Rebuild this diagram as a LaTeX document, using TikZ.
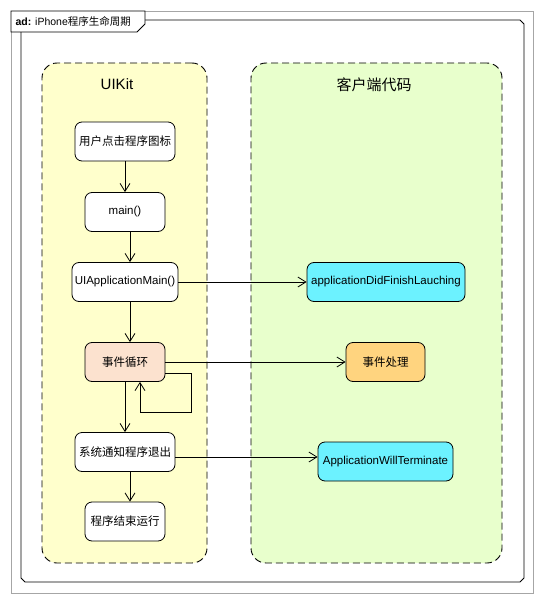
\documentclass[tikz,border=0pt]{standalone}
\usepackage{fontspec}
\setmainfont{Liberation Sans}
\newfontfamily\cjk{Noto Sans CJK SC}
\usepackage{tikz}
\usetikzlibrary{arrows.meta,positioning,calc}
\definecolor{uikitfill}{HTML}{FFFFCC}
\definecolor{clientfill}{HTML}{E8FFCC}
\definecolor{loopfill}{HTML}{FCE2CF}
\definecolor{cyanbox}{HTML}{6CF2FF}
\definecolor{evfill}{HTML}{FFD47F}
\tikzset{
  lane/.style={draw,dash pattern=on 7pt off 4pt,rounded corners=15pt,line width=0.9pt},
  lanetitle/.style={font=\fontsize{15}{17}\selectfont},
  act/.style={draw,rounded corners=7pt,line width=0.8pt,fill=white,minimum height=39pt,inner sep=1pt,font=\fontsize{11.5}{13}\selectfont},
  arr/.style={-{Straight Barb[length=8pt,width=10pt]},line width=0.8pt},
}

\begin{document}
\begin{tikzpicture}[x=1pt,y=-1pt]
        \useasboundingbox (0,0) rectangle (544,602);
        \draw[black!35,line width=0.8pt] (11,11) rectangle (533,593);
        \draw[line width=0.9pt] (145,20) -- (520,20) -- (524,24) -- (524,578) -- (520,582) -- (25,582) -- (21,578) -- (21,32);
        \draw[line width=0.9pt,fill=white] (11,11) -- (145,11) -- (145,24) -- (137,32) -- (11,32) -- cycle;
        \node[anchor=west,font=\fontsize{10.5}{12}\selectfont] (title) at (12,21.5) {\textbf{ad:} iPhone{\cjk 程序生命周期}};

        \node[lane,fill=uikitfill,minimum width=165pt,minimum height=500pt] (uikitlane) at (124.5,313) {};
        \node[lane,fill=clientfill,minimum width=251pt,minimum height=500pt] (clientlane) at (376.5,313) {};
        \node[lanetitle] (uikitname) at (117,84) {UIKit};
        \node[lanetitle] (clientname) at (374,85) {\cjk 客户端代码};

        \node[act,minimum width=100pt] (tap) at (125,141.5) {\cjk 用户点击程序图标};
        \node[act,minimum width=80pt] (mainfn) at (125,212) {main()};
        \node[act,minimum width=106pt] (uiapp) at (125,282) {UIApplicationMain()};
        \node[act,minimum width=80pt,fill=loopfill] (evloop) at (125,362) {\cjk 事件循环};
        \node[act,minimum width=100pt] (notify) at (125,452) {\cjk 系统通知程序退出};
        \node[act,minimum width=80pt] (finish) at (125,521.5) {\cjk 程序结束运行};

        \node[act,minimum width=158pt,fill=cyanbox] (didfinish) at (386,282) {applicationDidFinishLauching};
        \node[act,minimum width=79pt,fill=evfill] (handle) at (385.5,362) {\cjk 事件处理};
        \node[act,minimum width=135pt,fill=cyanbox] (willterm) at (385.5,461.5) {ApplicationWillTerminate};

        \draw[arr] (tap) -- (mainfn);
        \draw[arr] ([xshift=5pt]mainfn.south) -- ([xshift=5pt]uiapp.north);
        \draw[arr] ([xshift=5pt]uiapp.south) -- ([xshift=5pt]evloop.north);
        \draw[arr] (evloop) -- (notify);
        \draw[arr] ([xshift=5pt]notify.south) -- ([xshift=5pt]finish.north);
        \draw[arr] ([yshift=-11pt]evloop.east) -- ++(26,0) -- ++(0,39) -| ([xshift=15pt]evloop.south);

        \draw[arr] (uiapp) -- (didfinish);
        \draw[arr] (evloop) -- (handle);
        \draw[arr] ([yshift=-5pt]notify.east) -- ([yshift=-5pt]notify.east -| willterm.west);
      \end{tikzpicture}
\end{document}
